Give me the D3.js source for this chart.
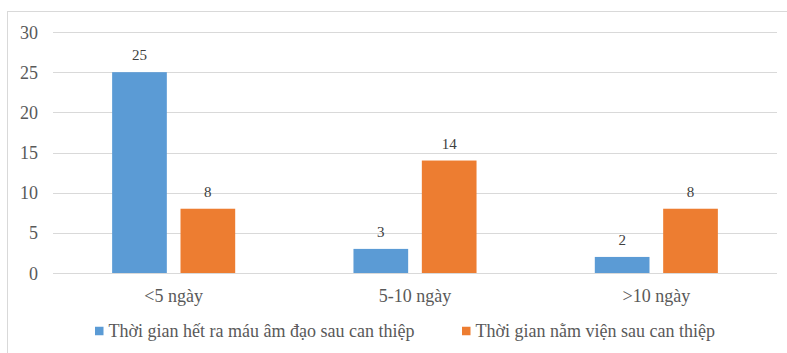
<!DOCTYPE html>
<html>
<head>
<meta charset="utf-8">
<script src="https://cdn.jsdelivr.net/npm/d3@7/dist/d3.min.js"></script>
<style>
  html, body { margin: 0; padding: 0; background: #fff; }
  svg { display: block; }
  svg text { font-family: "Liberation Serif", "Times New Roman", Tinos, "DejaVu Serif", serif; }
</style>
</head>
<body>
<svg id="chart" width="787" height="353"></svg>
<script>
// Categories (length of time, in days) and the two series
const categories = ["<5 ngày", "5-10 ngày", ">10 ngày"];
const seriesNames = [
  "Thời gian hết ra máu âm đạo sau can thiệp",
  "Thời gian nằm viện sau can thiệp"
];
const bleedingStop = [25, 3, 2];
const hospitalStay = [8, 14, 8];
const yTicks = [0, 5, 10, 15, 20, 25, 30];
const colors = ["#5B9BD5", "#ED7D31"];

const seriesValues = [bleedingStop, hospitalStay];
const rows = categories.map((c, i) => ({
  category: c,
  values: seriesValues.map((vals, s) => ({ series: s, value: vals[i] }))
}));

const svg = d3.select("#chart");
const serif = '"Liberation Serif", "Times New Roman", Tinos, "DejaVu Serif", serif';

// chart frame
svg.append("rect")
  .attr("x", 7.5).attr("y", 11.5)
  .attr("width", 800).attr("height", 360)
  .attr("fill", "#fff")
  .attr("stroke", "#d9d9d9").attr("stroke-width", 1);

const plot = { left: 53, right: 777, top: 32, bottom: 273 };

const y = d3.scaleLinear().domain([0, 30]).range([plot.bottom, plot.top]);
const x0 = d3.scaleBand().domain(categories).range([plot.left, plot.right]);
const x1 = d3.scaleBand().domain([0, 1]).range([0, x0.bandwidth()])
  .paddingInner(0.2).paddingOuter(0.865);

// gridlines
svg.append("g")
  .selectAll("line")
  .data(yTicks)
  .join("line")
  .attr("x1", plot.left).attr("x2", plot.right)
  .attr("y1", d => Math.round(y(d)) + 0.5)
  .attr("y2", d => Math.round(y(d)) + 0.5)
  .attr("stroke", "#d9d9d9").attr("stroke-width", 1);

// y axis labels
const yAxis = d3.axisLeft(y).tickValues(yTicks).tickSize(0).tickPadding(0);
const yg = svg.append("g").attr("transform", `translate(38,0)`).call(yAxis)
  .attr("font-family", null).attr("font-size", null);
yg.select(".domain").remove();
yg.selectAll("text")
  .style("font-family", serif).style("font-size", "18px")
  .attr("fill", "#595959").attr("dy", "0.34em");

// x axis labels
const xAxis = d3.axisBottom(x0).tickSize(0).tickPadding(0);
const xg = svg.append("g").attr("transform", `translate(0,${plot.bottom})`).call(xAxis)
  .attr("font-family", null).attr("font-size", null);
xg.select(".domain").remove();
xg.selectAll("text")
  .style("font-family", serif).style("font-size", "18px")
  .attr("fill", "#595959").attr("dy", null).attr("y", 29);

// bars
const groups = svg.append("g")
  .selectAll("g")
  .data(rows)
  .join("g")
  .attr("transform", d => `translate(${x0(d.category)},0)`);

groups.selectAll("rect")
  .data(d => d.values)
  .join("rect")
  .attr("x", d => x1(d.series))
  .attr("width", x1.bandwidth())
  .attr("y", d => y(d.value))
  .attr("height", d => y(0) - y(d.value))
  .attr("fill", d => colors[d.series]);

groups.selectAll("text")
  .data(d => d.values)
  .join("text")
  .attr("x", d => x1(d.series) + x1.bandwidth() / 2)
  .attr("y", d => y(d.value) - 12)
  .attr("text-anchor", "middle")
  .style("font-family", serif).style("font-size", "15px")
  .attr("fill", "#404040")
  .text(d => d.value);

// legend
const legendX = [95, 462];
const legend = svg.append("g")
  .selectAll("g")
  .data(seriesNames)
  .join("g")
  .attr("transform", (d, i) => `translate(${legendX[i]},331)`);
legend.append("rect")
  .attr("x", 0).attr("y", -4.25)
  .attr("width", 8.5).attr("height", 8.5)
  .attr("fill", (d, i) => colors[i]);
legend.append("text")
  .attr("x", 13.5).attr("y", 0).attr("dy", "0.33em")
  .style("font-family", serif).style("font-size", "18px")
  .attr("fill", "#595959")
  .text(d => d);
</script>
</body>
</html>
